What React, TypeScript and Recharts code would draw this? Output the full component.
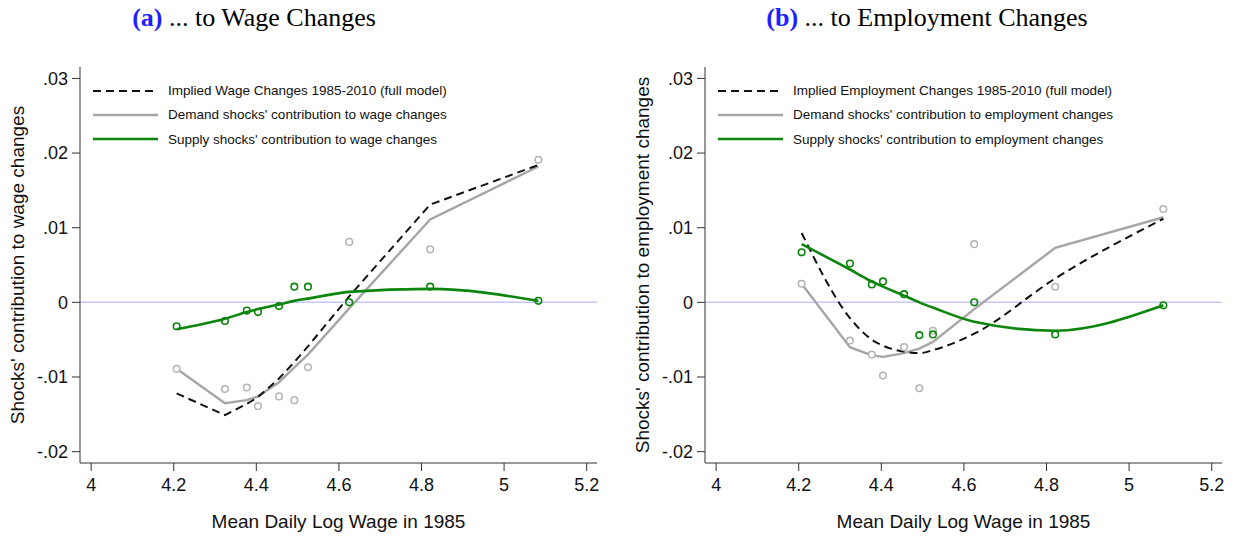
import { ComposedChart, Legend, Line, ReferenceLine, XAxis, YAxis } from "recharts";

// mean daily log wage in 1985 (same groups in both panels)
const wage = [4.207, 4.324, 4.377, 4.404, 4.455, 4.492, 4.525, 4.625, 4.821, 5.083];

// panel (a): wage changes
const impliedWage = [-0.0122, -0.0151, -0.0136, -0.0127, -0.0102, -0.008, -0.0059, 0.0008, 0.0131, 0.0184];
const demandWageLine = [-0.0089, -0.0135, -0.0131, -0.0126, -0.0107, -0.0087, -0.007, -0.0008, 0.0111, 0.0182];
const supplyWageLine = [-0.0036, -0.0022, -0.0013, -0.0009, -0.0003, 0.0002, 0.0005, 0.0014, 0.0018, 0.0002];
const demandWagePts = [-0.0089, -0.0116, -0.0114, -0.0139, -0.0126, -0.0131, -0.0087, 0.0081, 0.0071, 0.0191];
const supplyWagePts = [-0.0032, -0.0025, -0.0011, -0.0013, -0.0005, 0.0021, 0.0021, 0.0, 0.0021, 0.0002];

// panel (b): employment changes
const impliedEmp = [0.0093, -0.0021, -0.005, -0.0058, -0.0066, -0.0068, -0.0064, -0.0042, 0.0032, 0.0112];
const demandEmpLine = [0.0025, -0.006, -0.0071, -0.0073, -0.0068, -0.0062, -0.0053, -0.0009, 0.0073, 0.0114];
const supplyEmpLine = [0.0078, 0.0044, 0.0028, 0.0021, 0.0009, 0.0, -0.0007, -0.0026, -0.0038, -0.0004];
const demandEmpPts = [0.0025, -0.0051, -0.007, -0.0098, -0.006, -0.0115, -0.0038, 0.0078, 0.0021, 0.0125];
const supplyEmpPts = [0.0067, 0.0052, 0.0024, 0.0028, 0.0011, -0.0044, -0.0043, 0.0, -0.0043, -0.0004];

const xTicks = [4, 4.2, 4.4, 4.6, 4.8, 5, 5.2];
const yTicks = [-0.02, -0.01, 0, 0.01, 0.02, 0.03];

const wageLegend = [
  "Implied Wage Changes 1985-2010 (full model)",
  "Demand shocks' contribution to wage changes",
  "Supply shocks' contribution to wage changes",
];
const empLegend = [
  "Implied Employment Changes 1985-2010 (full model)",
  "Demand shocks' contribution to employment changes",
  "Supply shocks' contribution to employment changes",
];

const SANS = "'Liberation Sans', Arial, sans-serif";
const SERIF = "'Liberation Serif', 'Times New Roman', serif";
const GRAY = "#a6a6a6";
const GREEN = "#0b850b";
const AXIS = "#333";

const CHART_W = 613;
const CHART_H = 541;

const legendStyles = [
  { stroke: "#111", width: 2, dash: "8 5" },
  { stroke: GRAY, width: 2.4, dash: undefined },
  { stroke: GREEN, width: 2.6, dash: undefined },
];

function fmtY(v: number) {
  if (Math.abs(v) < 1e-9) return "0";
  const s = Math.abs(v).toFixed(2).replace(/^0/, "");
  return v < 0 ? "-" + s : s;
}

function fmtX(v: number) {
  return String(Number(v.toFixed(1)));
}

function LegendBox({ labels }: { labels: string[] }) {
  return (
    <div style={{ fontFamily: SANS, fontSize: 13.5, color: "#111" }}>
      {labels.map((label, i) => (
        <div key={label} style={{ display: "flex", alignItems: "center", height: 24.3 }}>
          <svg width={65} height={6} style={{ display: "block" }}>
            <line
              x1={0}
              y1={3}
              x2={65}
              y2={3}
              stroke={legendStyles[i].stroke}
              strokeWidth={legendStyles[i].width}
              strokeDasharray={legendStyles[i].dash}
            />
          </svg>
          <span style={{ marginLeft: 10, whiteSpace: "nowrap" }}>{label}</span>
        </div>
      ))}
    </div>
  );
}

type PanelProps = {
  left: number;
  tag: string;
  title: string;
  titleCenter: number;
  yLabel: string;
  legend: string[];
  implied: number[];
  demandLine: number[];
  supplyLine: number[];
  demandPts: number[];
  supplyPts: number[];
  smoothImplied: boolean;
};

function Panel(p: PanelProps) {
  const rows = wage.map((w, i) => ({
    wage: w,
    implied: p.implied[i],
    demandLine: p.demandLine[i],
    supplyLine: p.supplyLine[i],
    demandPt: p.demandPts[i],
    supplyPt: p.supplyPts[i],
  }));

  return (
    <>
      <div
        style={{
          position: "absolute",
          left: p.left + p.titleCenter,
          top: 3,
          transform: "translateX(-50%)",
          fontFamily: SERIF,
          fontSize: 26,
          lineHeight: "30px",
          whiteSpace: "nowrap",
          color: "#000",
        }}
      >
        <span style={{ color: "#1f1fff", fontWeight: 700 }}>{p.tag}</span> {p.title}
      </div>
      <div style={{ position: "absolute", left: p.left, top: 0 }}>
        <ComposedChart
          width={CHART_W}
          height={CHART_H}
          data={rows}
          margin={{ top: 67, right: 16, bottom: 38, left: 20 }}
        >
          <XAxis
            dataKey="wage"
            type="number"
            domain={[3.973, 5.225]}
            ticks={xTicks}
            tickFormatter={fmtX}
            allowDataOverflow
            height={40}
            tickSize={8}
            tickMargin={7}
            axisLine={{ stroke: AXIS }}
            tickLine={{ stroke: AXIS }}
            tick={{ fill: "#111", fontSize: 18, fontFamily: SANS }}
          />
          <YAxis
            type="number"
            domain={[-0.02152, 0.03153]}
            ticks={yTicks}
            tickFormatter={fmtY}
            allowDataOverflow
            width={60}
            tickSize={8}
            tickMargin={4}
            axisLine={{ stroke: AXIS }}
            tickLine={{ stroke: AXIS }}
            tick={{ fill: "#111", fontSize: 18, fontFamily: SANS }}
          />
          <ReferenceLine y={0} stroke="#c6c6fb" strokeWidth={1.5} />
          <Line
            dataKey="demandPt"
            stroke="none"
            legendType="none"
            dot={{ r: 3.3, stroke: "#b3b3b3", strokeWidth: 1.5, fill: "#fff" }}
            activeDot={false}
            isAnimationActive={false}
          />
          <Line
            dataKey="demandLine"
            type="linear"
            stroke={GRAY}
            strokeWidth={2.4}
            dot={false}
            activeDot={false}
            isAnimationActive={false}
          />
          <Line
            dataKey="implied"
            type={p.smoothImplied ? "monotone" : "linear"}
            stroke="#111"
            strokeWidth={2}
            strokeDasharray="8 5"
            dot={false}
            activeDot={false}
            isAnimationActive={false}
          />
          <Line
            dataKey="supplyLine"
            type="monotone"
            stroke={GREEN}
            strokeWidth={2.6}
            dot={false}
            activeDot={false}
            isAnimationActive={false}
          />
          <Line
            dataKey="supplyPt"
            stroke="none"
            legendType="none"
            dot={{ r: 3.3, stroke: GREEN, strokeWidth: 1.6, fill: "none" }}
            activeDot={false}
            isAnimationActive={false}
          />
          <Legend
            layout="vertical"
            align="center"
            verticalAlign="middle"
            wrapperStyle={{ left: 93, top: 78.5, width: "auto" }}
            content={() => <LegendBox labels={p.legend} />}
          />
        </ComposedChart>
      </div>
      <div
        style={{
          position: "absolute",
          left: p.left + 18,
          top: 265,
          transform: "translate(-50%, -50%) rotate(-90deg)",
          fontFamily: SANS,
          fontSize: 19,
          whiteSpace: "nowrap",
          color: "#111",
        }}
      >
        {p.yLabel}
      </div>
      <div
        style={{
          position: "absolute",
          left: p.left + 338.5,
          top: 522,
          transform: "translate(-50%, -50%)",
          fontFamily: SANS,
          fontSize: 19,
          whiteSpace: "nowrap",
          color: "#111",
        }}
      >
        Mean Daily Log Wage in 1985
      </div>
    </>
  );
}

export default function App() {
  return (
    <div
      style={{
        position: "absolute",
        left: 0,
        top: 0,
        width: 1238,
        height: 541,
        background: "#fff",
        overflow: "hidden",
      }}
    >
      <Panel
        left={0}
        tag="(a)"
        title="... to Wage Changes"
        titleCenter={254}
        yLabel="Shocks' contribution to wage changes"
        legend={wageLegend}
        implied={impliedWage}
        demandLine={demandWageLine}
        supplyLine={supplyWageLine}
        demandPts={demandWagePts}
        supplyPts={supplyWagePts}
        smoothImplied={false}
      />
      <Panel
        left={625}
        tag="(b)"
        title="... to Employment Changes"
        titleCenter={302}
        yLabel="Shocks' contribution to employment changes"
        legend={empLegend}
        implied={impliedEmp}
        demandLine={demandEmpLine}
        supplyLine={supplyEmpLine}
        demandPts={demandEmpPts}
        supplyPts={supplyEmpPts}
        smoothImplied={true}
      />
    </div>
  );
}
